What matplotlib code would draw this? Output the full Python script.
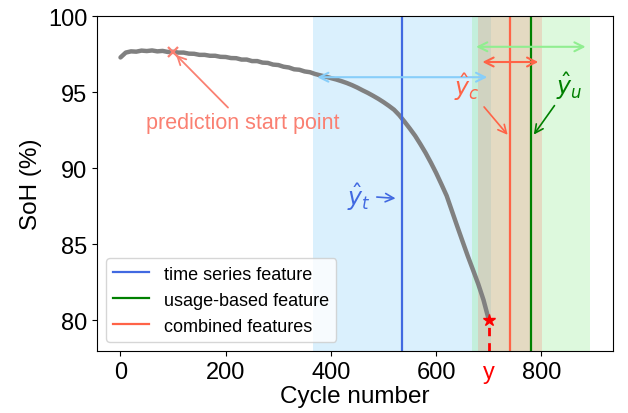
import matplotlib
matplotlib.use("Agg")
import matplotlib.pyplot as plt
from matplotlib import transforms

plt.rcParams['font.family'] = ['Liberation Sans', 'DejaVu Sans']

# ---- data ----
cycles = [0, 10, 20, 30, 40, 50, 60, 70, 80, 90, 100, 110, 120, 130, 140, 150,
          160, 170, 180, 190, 200, 210, 220, 230, 240, 250, 260, 270, 280, 290,
          300, 310, 320, 330, 340, 350, 360, 370, 380, 390, 400, 410, 420, 430,
          440, 450, 460, 470, 480, 490, 500, 510, 520, 530, 540, 550, 560, 570,
          580, 590, 600, 610, 620, 630, 640, 650, 660, 670, 680, 690, 700]
soh = [97.30, 97.62, 97.70, 97.68, 97.75, 97.72, 97.76, 97.70, 97.73, 97.66,
       97.67, 97.62, 97.62, 97.55, 97.54, 97.47, 97.47, 97.41, 97.41, 97.34,
       97.33, 97.26, 97.25, 97.16, 97.16, 97.06, 97.06, 96.96, 96.94, 96.83,
       96.80, 96.69, 96.64, 96.52, 96.49, 96.38, 96.33, 96.21, 96.12, 96.04,
       95.94, 95.85, 95.74, 95.62, 95.48, 95.32, 95.14, 94.97, 94.78, 94.58,
       94.36, 94.12, 93.86, 93.50, 93.07, 92.62, 92.15, 91.60, 91.02, 90.38,
       89.70, 88.96, 88.20, 87.20, 86.20, 85.22, 84.25, 83.33, 82.40, 81.35,
       80.05]

start_cycle, start_soh = 100, 97.66
true_eol = 700
eol_soh = 80.0

pred_t, pred_u, pred_c = 536, 781, 741
band_t = (366, 705)
band_u = (668, 892)
band_c = (680, 802)

arrow_y_t, arrow_y_u, arrow_y_c = 96.0, 98.0, 97.0

legend_labels = ['time series feature', 'usage-based feature', 'combined features']
col_t, col_u, col_c = 'royalblue', 'green', 'tomato'

# ---- figure ----
fig = plt.figure(figsize=(6.28, 4.14), dpi=100)
ax = fig.add_axes([0.1545, 0.150, 0.822, 0.808])

ax.axvspan(*band_t, color='lightskyblue', alpha=0.3, lw=0)
ax.axvspan(*band_u, color='lightgreen', alpha=0.3, lw=0)
ax.axvspan(*band_c, color='salmon', alpha=0.25, lw=0)

ax.plot(cycles, soh, color='gray', lw=3.2, solid_capstyle='round')

ax.axvline(pred_t, color=col_t, lw=1.6, label=legend_labels[0])
ax.axvline(pred_u, color=col_u, lw=1.6, label=legend_labels[1])
ax.axvline(pred_c, color=col_c, lw=1.6, label=legend_labels[2])

# double arrows for uncertainty ranges
for (lo, hi), yy, c in [(band_t, arrow_y_t, 'lightskyblue'),
                        (band_u, arrow_y_u, 'lightgreen'),
                        (band_c, arrow_y_c, 'tomato')]:
    ax.annotate('', xy=(lo, yy), xytext=(hi, yy),
                arrowprops=dict(arrowstyle='<->', color=c, lw=1.5,
                                mutation_scale=16, shrinkA=3, shrinkB=3))

# prediction labels
ax.annotate(r'$\hat{y}_t$', xy=(pred_t, 88.0), xytext=(454, 88.2),
            color=col_t, fontsize=17, ha='center', va='center',
            arrowprops=dict(arrowstyle='->', color=col_t, lw=1.2,
                            mutation_scale=15, shrinkB=5))
ax.annotate(r'$\hat{y}_c$', xy=(pred_c, 92.0), xytext=(658, 95.4),
            color=col_c, fontsize=17, ha='center', va='center',
            arrowprops=dict(arrowstyle='->', color=col_c, lw=1.2,
                            mutation_scale=15, shrinkB=3))
ax.annotate(r'$\hat{y}_u$', xy=(pred_u, 92.0), xytext=(853, 95.5),
            color=col_u, fontsize=17, ha='center', va='center',
            arrowprops=dict(arrowstyle='->', color=col_u, lw=1.2,
                            mutation_scale=15, shrinkB=3))

# prediction start point
ax.plot([start_cycle], [start_soh], marker='x', color='salmon', ms=7, mew=1.6)
ax.annotate('prediction start point', xy=(start_cycle, start_soh),
            xytext=(233, 93.0), color='salmon', fontsize=15.5,
            ha='center', va='center',
            arrowprops=dict(arrowstyle='->', color='salmon', lw=1.3,
                            mutation_scale=15, shrinkB=3))

# true end of life
ymin = 78
ax.plot([true_eol, true_eol], [ymin, eol_soh], color='red', ls='--', lw=2,
        dashes=(3, 2.5))
ax.plot([true_eol], [eol_soh], marker='*', color='red', ms=9)
blend = transforms.blended_transform_factory(ax.transData, ax.transAxes)
ax.annotate('y', xy=(true_eol, 0), xycoords=blend, xytext=(0, -7),
            textcoords='offset points', ha='center', va='top',
            color='red', fontsize=17)

xmax = band_u[1]
ax.set_xlim(-0.05 * xmax, 1.05 * xmax)
ax.set_ylim(ymin, 100)
ax.set_xticks([0, 200, 400, 600, 800])
ax.set_yticks([80, 85, 90, 95, 100])
ax.tick_params(labelsize=17)
ax.set_xlabel('Cycle number', fontsize=17.5, labelpad=2)
ax.set_ylabel('SoH (%)', fontsize=17.5)

ax.legend(loc='lower left', fontsize=13)

fig.savefig('out.png', dpi=100)
